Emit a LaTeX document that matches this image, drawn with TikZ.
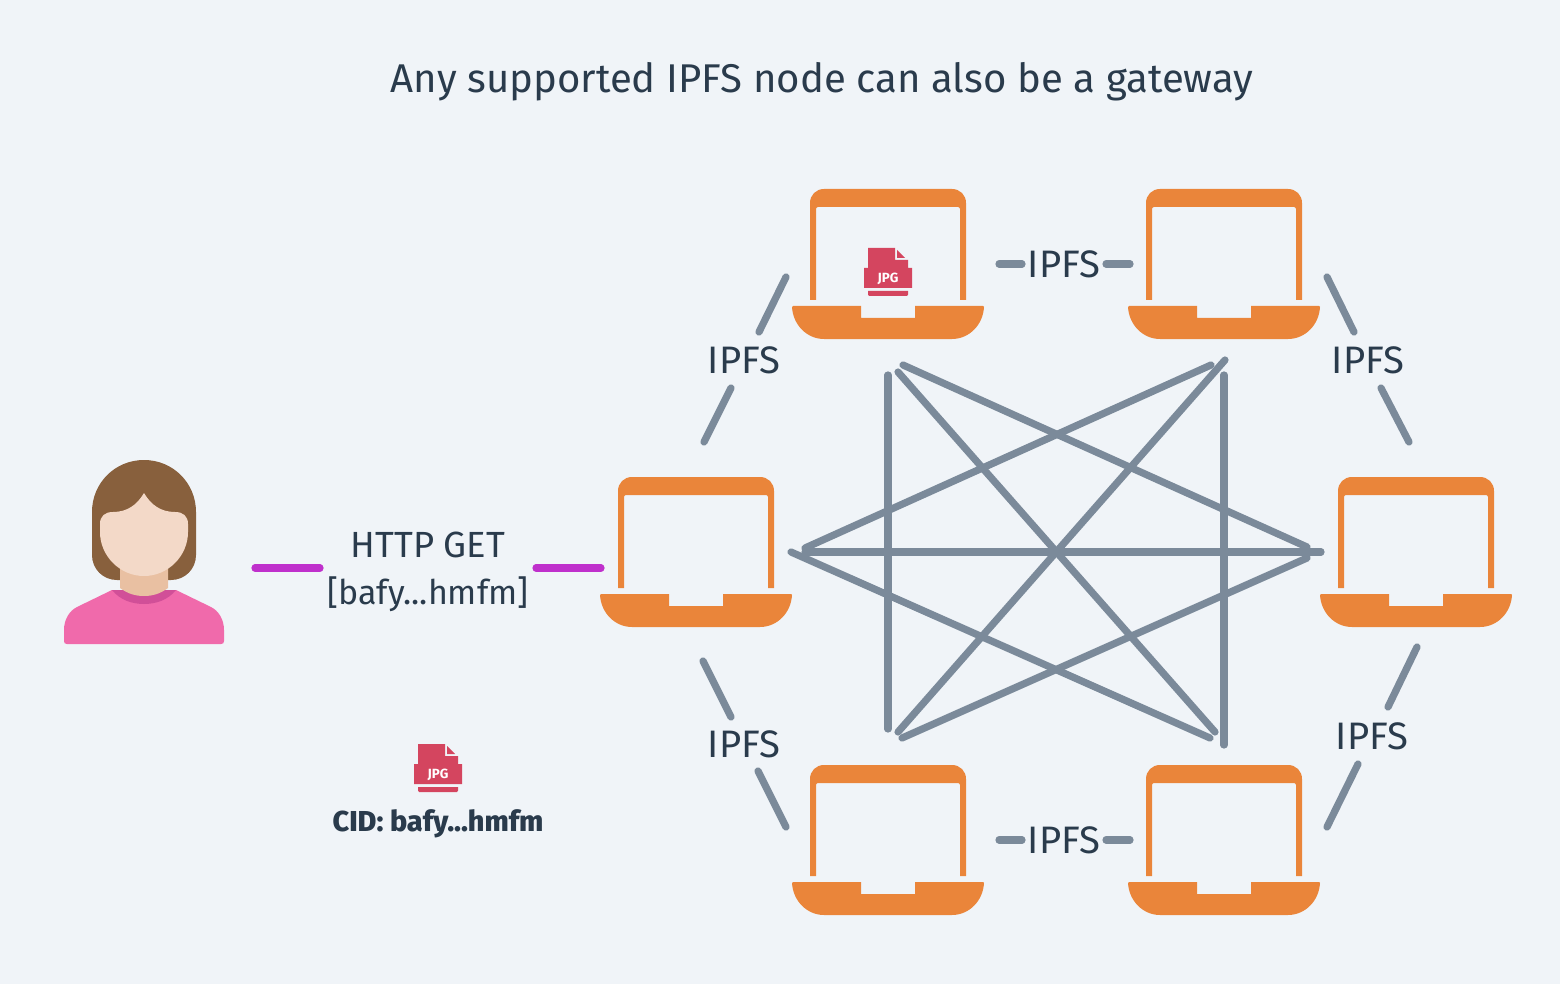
\documentclass[tikz,border=0pt]{standalone}
\usepackage{fontspec}
\setmainfont{Fira Sans}
\newfontfamily\heavyfont{Fira Sans ExtraBold}
\definecolor{bgc}{HTML}{F0F4F8}
\definecolor{lapc}{HTML}{EA853A}
\definecolor{linec}{HTML}{7B8A9A}
\definecolor{textc}{HTML}{2A3B4C}
\definecolor{jpgc}{HTML}{D4455F}
\definecolor{httpc}{HTML}{BF30CC}
\definecolor{hairc}{HTML}{88603D}
\definecolor{facec}{HTML}{F3D9C8}
\definecolor{neckc}{HTML}{E9C0A2}
\definecolor{shirtc}{HTML}{F06AAB}
\definecolor{collarc}{HTML}{D14F98}
\newcommand{\laptopicon}[3]{%
  \node[lapbox] (#1) at (#2+96,#3+75) {};
  \begin{scope}[shift={(#2,#3)}]
    \fill[lapc,even odd rule,rounded corners=0pt]
      (18,111) -- (18,14) .. controls (18,6) and (24,0) .. (32,0) -- (160,0)
      .. controls (168,0) and (174,6) .. (174,14) -- (174,111) -- (168,111) -- (168,20)
      .. controls (168,19) and (167,18) .. (166,18) -- (26,18)
      .. controls (25,18) and (24,19) .. (24,20) -- (24,111) -- cycle;
    \fill[lapc] (1,117) -- (69,117) -- (69,129) -- (123,129) -- (123,117) -- (191,117)
      .. controls (191.6,117) and (192,117.4) .. (192,118)
      .. controls (191,136) and (177,150) .. (160,150) -- (32,150)
      .. controls (15,150) and (1,136) .. (0,118) .. controls (0,117.4) and (0.4,117) .. (1,117) -- cycle;
  \end{scope}}
\newcommand{\jpgicon}[3]{%
  \begin{scope}[shift={(#2,#3)}]
    \fill[jpgc] (4,0) -- (31,0) -- (31,12) -- (44,12) -- (44,20) -- (48,20) -- (48,40) -- (0,40) -- (0,20) -- (4,20) -- cycle;
    \fill[jpgc] (33,2) -- (41,10) -- (33,10) -- cycle;
    \fill[jpgc] (4,43) -- (44,43) -- (44,46.5) -- (43,48) -- (5,48) -- (4,46.5) -- cycle;
    \node[jpgtext] (#1) at (24,30.5) {JPG};
  \end{scope}}
\tikzset{
  lapbox/.style={inner sep=0pt,minimum width=144pt,minimum height=112.5pt},
  jpgtext/.style={text=white,font=\fontsize{10}{11}\selectfont\bfseries,inner sep=0pt},
  meshline/.style={draw=linec,line width=5.4pt,line cap=round},
  httpline/.style={draw=httpc,line width=5.4pt,line cap=round},
  lbl/.style={text=textc,font=\fontsize{28.7}{34}\selectfont,inner sep=0pt},
  httplbl/.style={text=textc,font=\fontsize{27.3}{34}\selectfont,inner sep=0pt},
  bafylbl/.style={text=textc,font=\fontsize{25.5}{34}\selectfont,inner sep=0pt},
  titlelbl/.style={text=textc,font=\fontsize{30.1}{36}\selectfont,inner sep=0pt},
  cidlbl/.style={text=textc,font=\heavyfont\fontsize{21.6}{26}\selectfont,inner sep=0pt},
}
\begin{document}
\begin{tikzpicture}[x=0.75pt,y=-0.75pt]
\useasboundingbox (0,0) rectangle (1560,984);
\fill[bgc] (0,0) rectangle (1560,984);
\node[titlelbl] (title) at (822,82) {Any supported IPFS node can also be a gateway};

% person
\fill[hairc] (92,512) .. controls (92,483) and (115,460) .. (144,460)
  .. controls (173,460) and (196,483) .. (196,512) -- (196,555)
  .. controls (196,569) and (185,580) .. (171,580) -- (117,580)
  .. controls (103,580) and (92,569) .. (92,555) -- cycle;
\fill[shirtc] (112,590) -- (176,590) -- (211,607)
  .. controls (219,611) and (224,620) .. (224,630) -- (224,641)
  .. controls (224,643) and (223,644) .. (221,644) -- (67,644)
  .. controls (65,644) and (64,643) .. (64,641) -- (64,630)
  .. controls (64,620) and (69,611) .. (77,607) -- cycle;
\fill[collarc] (112,590) -- (176,590) .. controls (168,600) and (156,604) .. (144,604)
  .. controls (132,604) and (120,600) .. (112,590) -- cycle;
\fill[neckc] (120,560) -- (168,560) -- (168,588)
  .. controls (160,594) and (152,596) .. (144,596)
  .. controls (136,596) and (128,594) .. (120,588) -- cycle;
\fill[facec] (100,524) .. controls (100,516) and (105,512) .. (113,512)
  .. controls (127,512) and (137,505) .. (144,493)
  .. controls (151,505) and (161,512) .. (175,512)
  .. controls (183,512) and (188,516) .. (188,524) -- (188,532)
  .. controls (188,556) and (168,576) .. (144,576)
  .. controls (120,576) and (100,556) .. (100,532) -- cycle;
\node[inner sep=0pt,minimum size=0pt] (user) at (144,552) {};

% laptops
\laptopicon{lapTL}{792}{189}
\laptopicon{lapTR}{1128}{189}
\laptopicon{lapL}{600}{477}
\laptopicon{lapR}{1320}{477}
\laptopicon{lapBL}{792}{765}
\laptopicon{lapBR}{1128}{765}

% icons
\jpgicon{jpgA}{864}{248}
\jpgicon{jpgB}{414}{744}
\node[cidlbl] (cid) at (438,824) {CID: bafy...hmfm};

% labels
\node[httplbl] (http) at (428,545) {HTTP GET};
\node[bafylbl] (bafy) at (428,594) {[bafy...hmfm]};
\node[lbl] (iTL) at (744,360.5) {IPFS};
\node[lbl] (iT)  at (1064,264.5) {IPFS};
\node[lbl] (iTR) at (1368,360.5) {IPFS};
\node[lbl] (iBL) at (744,744.5) {IPFS};
\node[lbl] (iB)  at (1064,840.5) {IPFS};
\node[lbl] (iBR) at (1372,736.5) {IPFS};

% mesh end points
\coordinate (m1a) at (888,375);  \coordinate (m1b) at (888,729);
\coordinate (m2a) at (1224,375); \coordinate (m2b) at (1224,745);
\coordinate (m3a) at (805,552);  \coordinate (m3b) at (1321,552);
\coordinate (m4a) at (791,552);  \coordinate (m4b) at (1210,738);
\coordinate (m5a) at (805,548);  \coordinate (m5b) at (1211,365);
\coordinate (m6a) at (903,365);  \coordinate (m6b) at (1307,547);
\coordinate (m7a) at (902,738);  \coordinate (m7b) at (1307,558);
\coordinate (m8a) at (898,372);  \coordinate (m8b) at (1215,732);
\coordinate (m9a) at (1225,360); \coordinate (m9b) at (898,732);
\foreach \i in {1,...,9} {\draw[meshline] (m\i a) -- (m\i b);}

% IPFS connectors
\coordinate (a1) at (786,277);  \coordinate (a2) at (759,332);
\coordinate (a3) at (731,388);  \coordinate (a4) at (704,442);
\coordinate (b1) at (999,264);  \coordinate (b2) at (1022,264);
\coordinate (b3) at (1106,264); \coordinate (b4) at (1130,264);
\coordinate (c1) at (1327,277); \coordinate (c2) at (1354,332);
\coordinate (c3) at (1381,388); \coordinate (c4) at (1409,442);
\coordinate (d1) at (703,661);  \coordinate (d2) at (731,717);
\coordinate (d3) at (758,771);  \coordinate (d4) at (786,827);
\coordinate (e1) at (999,840);  \coordinate (e2) at (1022,840);
\coordinate (e3) at (1106,840); \coordinate (e4) at (1130,840);
\coordinate (f1) at (1417,647); \coordinate (f2) at (1388,707);
\coordinate (f3) at (1358,764); \coordinate (f4) at (1327,827);
\foreach \s in {a,b,c,d,e,f} {
  \draw[meshline] (\s1) -- (\s2);
  \draw[meshline] (\s3) -- (\s4);
}

% HTTP connectors
\coordinate (h1) at (255,568); \coordinate (h2) at (320,568);
\coordinate (h3) at (536,568); \coordinate (h4) at (601,568);
\draw[httpline] (h1) -- (h2);
\draw[httpline] (h3) -- (h4);
\end{tikzpicture}
\end{document}
